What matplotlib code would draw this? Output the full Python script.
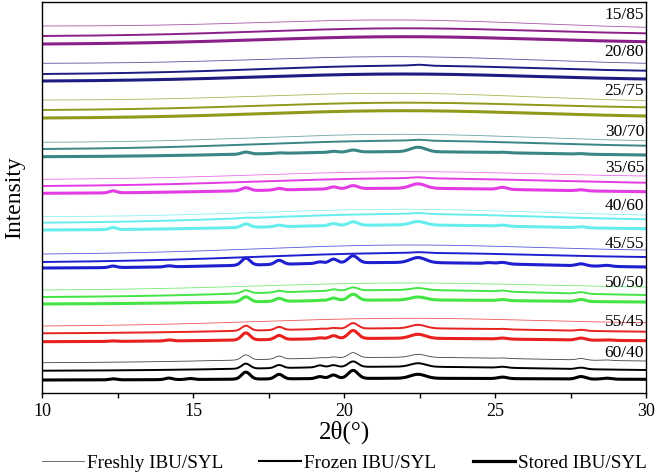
import numpy as np
import matplotlib
matplotlib.use("Agg")
import matplotlib.pyplot as plt
from matplotlib.lines import Line2D

plt.rcParams['font.family'] = ['Liberation Serif', 'DejaVu Serif']

# groups from top to bottom (IBU/SYL ratio)
groups = ["15/85", "20/80", "25/75", "30/70", "35/65",
          "40/60", "45/55", "50/50", "55/45", "60/40"]
colors = ["#8a1f8a", "#1c1c82", "#8f9a1a", "#3a8585", "#e43ce4",
          "#66eeee", "#1f1fcf", "#44e444", "#e8201e", "#000000"]

# halo level of each trace (offset a.u.) at 10, 22 and 30 deg
fresh_left = [367, 329.7, 293, 250.7, 213.7, 176.3, 139, 103, 67, 30.3]
fresh_mid = [373, 336.3, 299.7, 258.7, 221.3, 183.7, 148, 110, 74.7, 35.7]
fresh_right = [365.7, 329.7, 292.3, 252.3, 217, 178, 143, 106, 70.3, 32]

frozen_left = [357, 319, 283, 244, 207, 170.3, 131, 96, 59.7, 22.3]
frozen_mid = [364.7, 327.3, 290.3, 252.3, 214.7, 179, 140, 103, 64.7, 26.3]
frozen_right = [359.7, 322.3, 285.7, 247.3, 210.3, 173.7, 136, 98, 61.3, 23]

stored_left = [349, 312, 275, 236.3, 199.7, 163, 125, 89, 51.3, 13]
stored_mid = [356.3, 319, 282.3, 241.3, 204.7, 168, 130.5, 93, 54.7, 14.7]
stored_right = [351.3, 314, 277, 238, 201.3, 164.3, 126, 91, 52.3, 13.7]

# crystalline reflections (deg) and their widths
peak_pos = [12.35, 14.2, 14.9, 16.75, 17.85, 19.2, 19.65, 20.3, 22.45, 24.8, 25.25, 27.85, 28.7]
peak_w = [0.12, 0.12, 0.12, 0.14, 0.13, 0.12, 0.13, 0.16, 0.25, 0.15, 0.15, 0.15, 0.15]

z = [0] * 13
fresh_peaks = [z, z, z, z, z, z, z, z, z,
               [0, 0, 0, 5, 3, 0.5, 1, 5, 3, 0, 0.5, 1.5, 0.5]]
frozen_peaks = [z,
                [0, 0, 0, 0, 0, 0, 0, 0, 1.0, 0, 0, 0, 0],
                z,
                [0, 0, 0, 0, 0, 0, 0, 0, 1.0, 0, 0, 0, 0],
                [0, 0, 0, 0, 0, 0, 0, 0, 1.0, 0, 0, 0, 0],
                [0, 0, 0, 0.5, 0, 0, 0, 0, 1.0, 0, 0, 0, 0],
                [0, 0, 0, 0, 0, 0, 0, 0, 0.8, 0, 0, 0, 0],
                [0, 0, 0, 3, 1.5, 0, 1.5, 3, 2, 0, 1, 1.5, 0],
                [0, 0, 0, 5, 3, 0.5, 1, 5.5, 3.5, 0, 0.5, 1, 0],
                [0, 0, 0, 5, 3, 2, 2, 5.5, 3.5, 0, 1, 1.5, 0]]
stored_peaks = [z, z, z,
                [0, 0, 0, 2, 0.5, 0, 1, 2, 4.5, 0, 0.5, 0.5, 0],
                [2, 0, 0, 3, 1.5, 0, 2, 3, 4.5, 0, 2, 1, 0],
                [2, 0, 0, 3.5, 1.5, 0, 2, 3.5, 3.5, 0, 1, 1, 0],
                [1.5, 1, 0, 7, 4, 1.5, 4, 7, 5, 1, 1.5, 2, 1],
                [0, 0, 0, 5, 3, 0.5, 2.5, 6, 3, 0, 1, 2, 0],
                [0.5, 1, 0, 7, 4, 1, 3, 8, 4, 0, 1, 2, 0.5],
                [1, 1.5, 1, 7, 4.5, 2, 3.5, 8, 4, 0, 1.5, 2.5, 1]]

label_y = [378, 340.5, 302, 261, 225, 187, 149, 110, 70.5, 40]

x = np.linspace(10, 30, 2001)


def halo(xx, c=21.8, s=4.5):
    g = np.exp(-(xx - c) ** 2 / (2 * s ** 2))
    g10 = np.exp(-(10 - c) ** 2 / (2 * s ** 2))
    g30 = np.exp(-(30 - c) ** 2 / (2 * s ** 2))
    lin = g10 + (g30 - g10) * (xx - 10) / 20
    return g - lin


def trace(left, mid, right, heights):
    base = left + (right - left) * (x - 10) / 20
    h22 = halo(np.array(22.0))
    hump = (mid - (left + (right - left) * 0.6)) / h22
    y = base + hump * halo(x)
    for p, w, h in zip(peak_pos, peak_w, heights):
        y = y + h * np.exp(-(x - p) ** 2 / (2 * w ** 2))
    return y


fig = plt.figure(figsize=(6.55, 4.75), dpi=100)
ax = fig.add_axes([42 / 655, 82 / 475, 604 / 655, 391 / 475])

for i, g in enumerate(groups):
    c = colors[i]
    ax.plot(x, trace(fresh_left[i], fresh_mid[i], fresh_right[i], fresh_peaks[i]),
            color=c, lw=0.6, alpha=0.75)
    ax.plot(x, trace(frozen_left[i], frozen_mid[i], frozen_right[i], frozen_peaks[i]),
            color=c, lw=1.4)
    ax.plot(x, trace(stored_left[i], stored_mid[i], stored_right[i], stored_peaks[i]),
            color=c, lw=2.2)
    ax.text(0.997, label_y[i], g, transform=ax.get_yaxis_transform(),
            ha='right', va='center', fontsize=12.5)

ax.set_xlim(10, 30)
ax.set_ylim(0, 391)
ax.set_xticks([10, 15, 20, 25, 30])
ax.set_xticks([12.5, 17.5, 22.5, 27.5], minor=True)
ax.tick_params(axis='x', which='both', direction='out', length=3.5, width=1, labelsize=13, pad=4)
ax.set_yticks([])
for sp in ax.spines.values():
    sp.set_linewidth(1.0)

ax.set_xlabel("2θ(°)", fontsize=18, labelpad=0)
ax.set_ylabel("Intensity", fontsize=17, labelpad=12)

handles = [Line2D([], [], color='#555555', lw=0.6),
           Line2D([], [], color='black', lw=1.5),
           Line2D([], [], color='black', lw=2.3)]
fig.legend(handles, ["Freshly IBU/SYL", "Frozen IBU/SYL", "Stored IBU/SYL"],
           loc='center', bbox_to_anchor=(344 / 655, 1 - 463 / 475), ncol=3,
           frameon=False, fontsize=13.8, handlelength=2.2, handletextpad=0.15,
           columnspacing=1.9, borderpad=0)

fig.savefig("out.png", dpi=100)
